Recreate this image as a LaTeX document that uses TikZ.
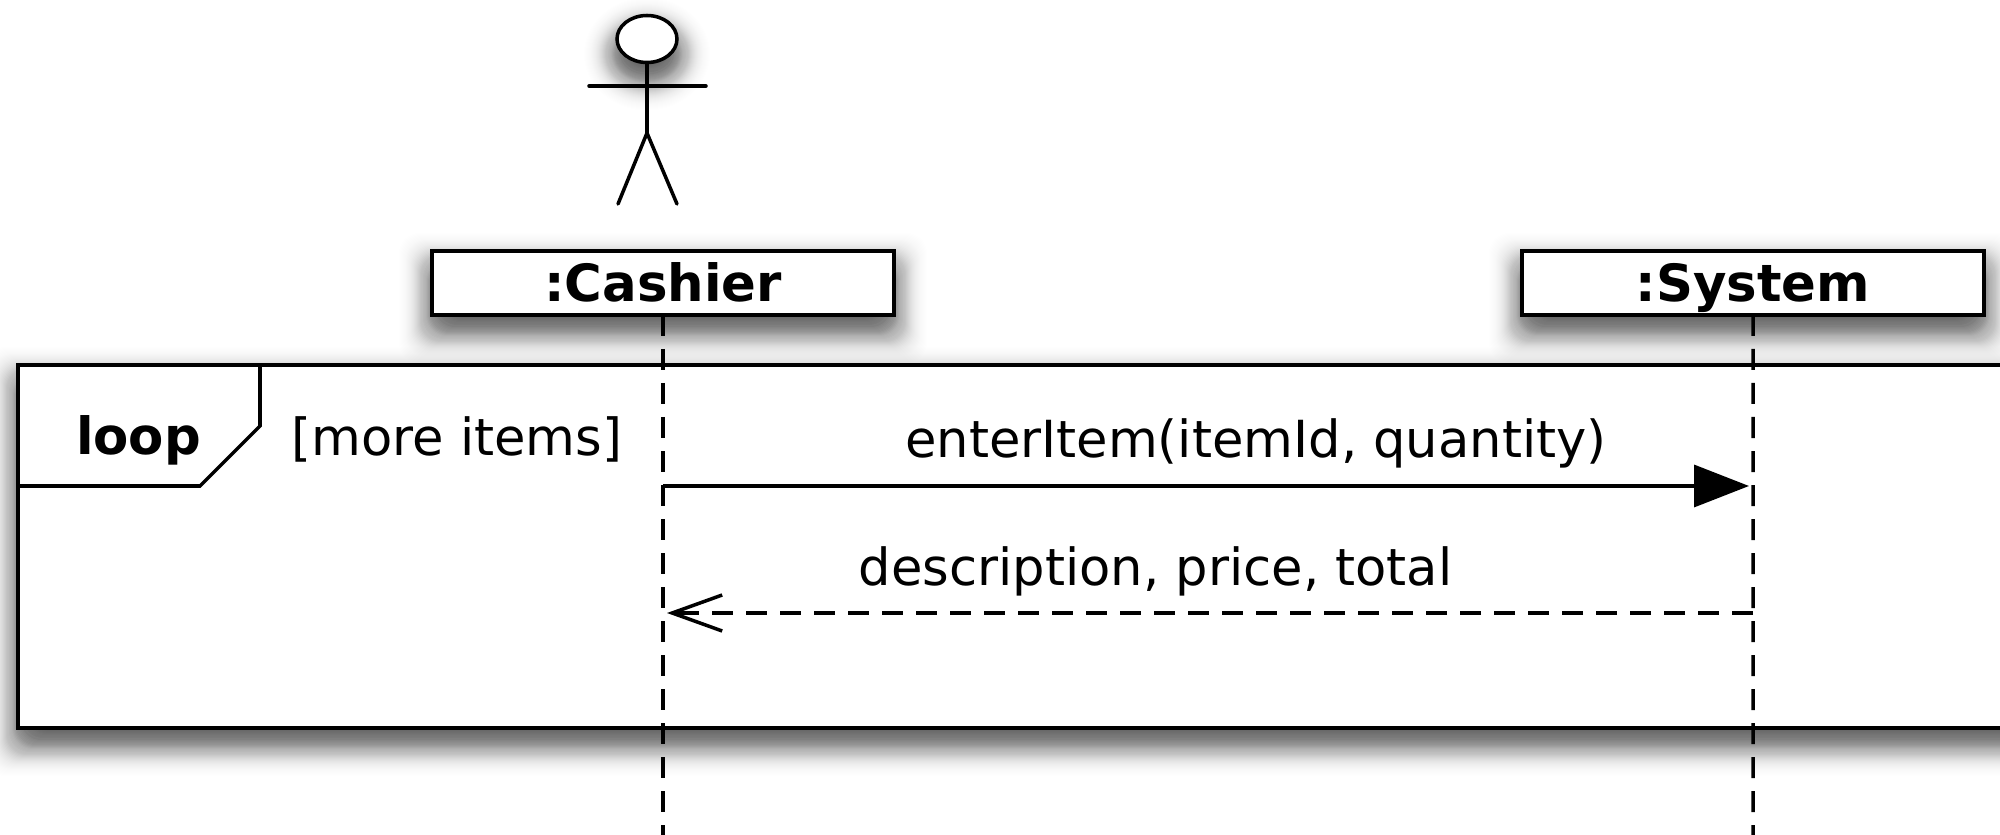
\documentclass[tikz,border=0pt]{standalone}
\usepackage{fontspec}
\setmainfont{DejaVu Sans}
\usetikzlibrary{arrows.meta,shapes.geometric,backgrounds}
\newcommand{\softbox}[1]{%
  \begin{pgfonlayer}{background}
    \foreach \d in {-0.2,-0.19,...,0.45} {
      \pgfmathsetmacro{\a}{0.032*exp(-(\d/0.2)^2)}
      \fill[black, opacity=\a, rounded corners=0.2cm] ([shift={(-\d,-\d-0.15)}]#1.south west) rectangle ([shift={(\d,\d-0.15)}]#1.north east);
    }
  \end{pgfonlayer}}
\newcommand{\softhead}[1]{%
  \begin{pgfonlayer}{background}
    \foreach \d in {-0.2,-0.19,...,0.45} {
      \pgfmathsetmacro{\a}{0.032*exp(-(\d/0.2)^2)}
      \fill[black, opacity=\a] ([yshift=-0.15cm]#1.center) ellipse ({0.3+\d} and {0.235+\d});
    }
  \end{pgfonlayer}}
\begin{document}
\begin{tikzpicture}[
  umlline/.style={line width=1pt},
  lifebox/.style={rectangle, draw, umlline, fill=white, outer sep=0pt, minimum width=4.62cm, minimum height=0.64cm, inner sep=0pt, text height=0.37cm, text depth=0cm, font=\fontsize{14.6}{16}\selectfont\bfseries},
  lifeline/.style={umlline, dash pattern=on 0.21cm off 0.13cm},
  msgtext/.style={font=\fontsize{14.55}{16}\selectfont, inner sep=0pt},
  node distance=10.9cm
]
\useasboundingbox (0,0.02) rectangle (20,8.36);
% Loop frame
\node[rectangle, draw, umlline, fill=white, outer sep=0pt, anchor=north west, minimum width=21cm, minimum height=3.63cm, inner sep=0pt] (loopframe) at (0.18,4.71) {};
\softbox{loopframe}
\coordinate (tagtop) at (2.6,4.71);
\coordinate (tagnotch) at (2.6,4.1);
\coordinate (tagcut) at (2.0,3.5);
\coordinate (tagleft) at (0.18,3.5);
\draw[umlline] (tagtop) -- (tagnotch) -- (tagcut) -- (tagleft);
\node[font=\fontsize{14.6}{16}\selectfont\bfseries, inner sep=0pt] (looplabel) at (1.385,3.96) {loop};
\node[msgtext] (guard) at (4.57,3.97) {[more items]};

% Actor
\node[ellipse, draw, umlline, fill=white, minimum width=0.6cm, minimum height=0.47cm, inner sep=0pt] (head) at (6.47,7.97) {};
\softhead{head}
\coordinate (hip) at (6.47,7.03);
\coordinate (armleft) at (5.89,7.5);
\coordinate (armright) at (7.06,7.5);
\coordinate (footleft) at (6.18,6.32);
\coordinate (footright) at (6.77,6.32);
\draw[umlline, line cap=round] (head) -- (hip);
\draw[umlline, line cap=round] (armleft) -- (armright);
\draw[umlline, line cap=round] (footleft) -- (hip) -- (footright);

% Lifelines
\node[lifebox] (cashier) at (6.63,5.53) {:Cashier};
\node[lifebox, right of=cashier] (system) {:System};
\softbox{cashier}
\softbox{system}
\coordinate (cashierend) at (6.63,0);
\coordinate (systemend) at (17.53,0);
\draw[lifeline] (cashier) -- (cashierend);
\draw[lifeline] (system) -- (systemend);

% Messages
\coordinate (enterfrom) at (6.63,3.5);
\coordinate (enterto) at (17.49,3.5);
\coordinate (returnfrom) at (17.53,2.23);
\coordinate (returnto) at (6.67,2.23);
\draw[umlline, -{Triangle[length=0.55cm, width=0.42cm]}] (enterfrom) -- node[msgtext, pos=0.546, above=0.16cm] (entertext) {enterItem(itemId, quantity)} (enterto);
\draw[lifeline, -{Straight Barb[length=0.5cm, width=0.36cm]}] (returnfrom) -- node[msgtext, pos=0.55, above=0.15cm] (returntext) {description, price, total} (returnto);
\end{tikzpicture}
\end{document}
